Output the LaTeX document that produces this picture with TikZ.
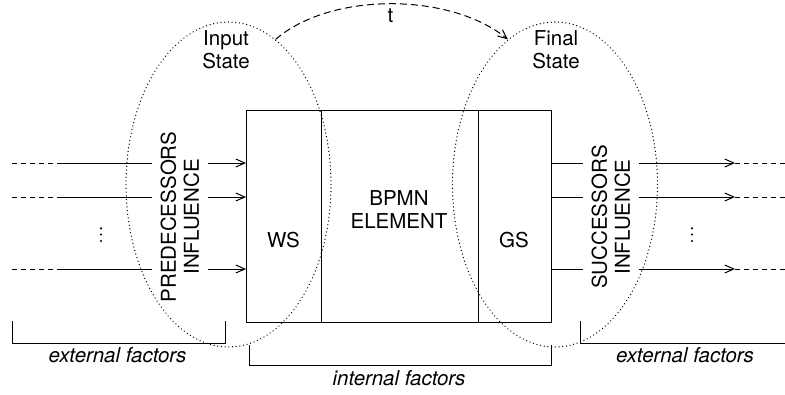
\documentclass[tikz,border=0pt]{standalone}
\usepackage{fontspec}
\setmainfont{TeX Gyre Heros}
\usetikzlibrary{arrows.meta,shapes.geometric}
\begin{document}
\begin{tikzpicture}[x=1pt,y=-1pt,
  line width=1pt,
  every node/.style={font=\fontsize{20.5}{23}\selectfont, inner sep=0pt},
  tip/.style={-{Straight Barb[length=9pt,width=8pt]}},
  dashline/.style={dash pattern=on 5pt off 4pt},
  arcline/.style={dash pattern=on 7pt off 4pt},
  dotline/.style={line width=1.3pt, dash pattern=on 0.1pt off 3.6pt, line cap=round},
  statezone/.style={draw, dotline, ellipse, minimum width=205pt, minimum height=325pt},
  factor/.style={font=\fontsize{20.5}{23}\selectfont\itshape},
  infl/.style={rotate=90, align=center, fill=white, inner xsep=0pt, inner ysep=9pt},
  dot/.style={fill, circle, minimum size=2.4pt}]
\useasboundingbox (0,0) rectangle (785,394);

% BPMN element with its two sub-states
\node[draw, minimum width=305pt, minimum height=212pt, anchor=north west] (elem) at (246,110) {};
\draw (elem.north west) ++(75,0) coordinate (wsd) -- (wsd |- elem.south);
\draw (elem.north east) ++(-74,0) coordinate (gsd) -- (gsd |- elem.south);
\node (ws) at (283.5,240) {WS};
\node[align=center] (bpmn) at (399,210) {BPMN\\ELEMENT};
\node (gs) at (514,240) {GS};

% incoming and outgoing flows
\foreach \y [count=\i] in {163,197,269} {
  \coordinate (ls\i) at (12,\y);
  \coordinate (lm\i) at (62,\y);
  \draw[dashline] (ls\i) -- (lm\i);
  \draw[tip] (lm\i) -- (lm\i -| elem.west);
  \coordinate (rs\i) at (735,\y);
  \coordinate (re\i) at (785,\y);
  \draw[tip] (elem.east |- rs\i) -- (rs\i);
  \draw[dashline] (rs\i) -- (re\i);
}
\node[infl] (pred) at (180,217) {PREDECESSORS\\INFLUENCE};
\node[infl] (succ) at (611,217) {SUCCESSORS\\INFLUENCE};

% elided flows
\foreach \y [count=\i] in {228.3,234.5,241} {
  \node[dot] (ld\i) at (101,\y) {};
  \node[dot] (rd\i) at (692,\y) {};
}

% input and final states
\node[statezone] (instate) at (228.5,184.5) {};
\node[statezone] (finstate) at (555,184.5) {};
\node[align=center] (inlbl) at (226,50) {Input\\State};
\node[align=center] (finlbl) at (556,50) {Final\\State};
\draw[arcline, tip] (instate.72) .. controls (330,-8) and (450,-8) .. (finstate.108)
  node[pos=0.5, below=4pt] (t) {t};

% factor brackets
\draw (12,321) -- (12,343) -- (225,343) -- (225,321);
\node[factor] (extl) at (117.5,355) {external factors};
\draw (249,345) -- (249,365) -- (551,365) -- (551,345);
\node[factor] (intf) at (399,378) {internal factors};
\draw (580,321) -- (580,343) -- (786,343);
\node[factor] (extr) at (685,355) {external factors};
\end{tikzpicture}
\end{document}
